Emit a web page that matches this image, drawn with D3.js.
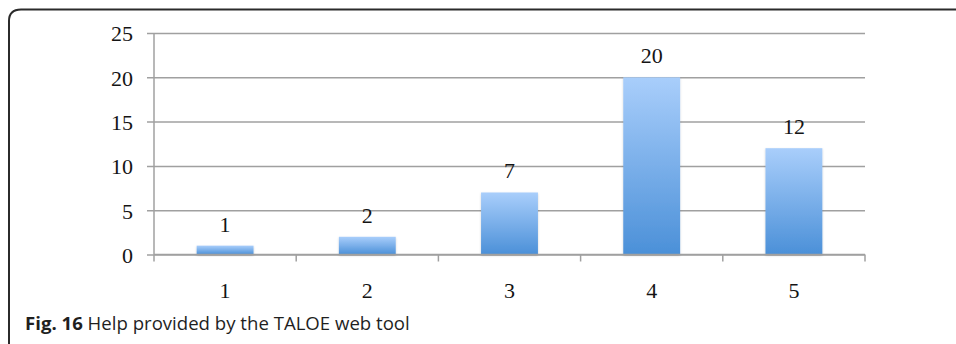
<!DOCTYPE html>
<html>
<head>
<meta charset="utf-8">
<script src="https://cdn.jsdelivr.net/npm/d3@7/dist/d3.min.js"></script>
<style>
  html, body { margin: 0; padding: 0; background: #fff; }
  svg { display: block; }
</style>
</head>
<body>
<svg id="chart" width="956" height="344"></svg>
<script>
// Responses per rating level
const categories = ["1", "2", "3", "4", "5"];
const counts = [1, 2, 7, 20, 12];
const yTicks = [0, 5, 10, 15, 20, 25];
const captionLabel = "Fig. 16";
const captionText = "Help provided by the TALOE web tool";

const svg = d3.select("#chart");
const W = 956, H = 344;

// Figure frame: top and left edges with a rounded corner
svg.append("path")
  .attr("d", `M9,${H + 2} L9,21 Q9,9.5 21,9.5 L${W + 2},9.5`)
  .attr("fill", "none")
  .attr("stroke", "#2b2b2b")
  .attr("stroke-width", 2);

const plot = { left: 154, right: 865, top: 33, bottom: 254.5 };

const x = d3.scaleBand()
  .domain(categories)
  .range([plot.left, plot.right])
  .paddingInner(0.6)
  .paddingOuter(0.3);

const y = d3.scaleLinear()
  .domain([0, 25])
  .range([plot.bottom, plot.top]);

const serif = "'Liberation Serif', 'DejaVu Serif', serif";

// Gradient fill for the bars
const defs = svg.append("defs");
const grad = defs.append("linearGradient")
  .attr("id", "barFill")
  .attr("x1", 0).attr("y1", 0).attr("x2", 0).attr("y2", 1);
grad.append("stop").attr("offset", "0%").attr("stop-color", "#a9cefb");
grad.append("stop").attr("offset", "100%").attr("stop-color", "#4b90d8");

const shadow = defs.append("filter").attr("id", "barShadow")
  .attr("x", "-20%").attr("y", "-20%").attr("width", "140%").attr("height", "140%");
shadow.append("feDropShadow")
  .attr("dx", 0).attr("dy", 1).attr("stdDeviation", 1.2)
  .attr("flood-color", "#000").attr("flood-opacity", 0.18);

// Horizontal gridlines with left tick stubs
const yAxis = d3.axisLeft(y)
  .tickValues(yTicks)
  .tickSize(-(plot.right - plot.left))
  .tickSizeOuter(0)
  .tickPadding(21)
  .tickFormat(d3.format("d"));

const gy = svg.append("g")
  .attr("transform", `translate(${plot.left},0)`)
  .call(yAxis);
gy.select(".domain").remove();
gy.selectAll(".tick line")
  .attr("x1", -7)
  .attr("stroke", "#a0a0a0")
  .attr("stroke-width", 1.5);
gy.selectAll(".tick text")
  .attr("fill", "#141414")
  .attr("dy", "0.36em")
  .style("font-family", serif)
  .style("font-size", "22px");

// Vertical axis line
svg.append("line")
  .attr("x1", plot.left).attr("x2", plot.left)
  .attr("y1", plot.top).attr("y2", plot.bottom)
  .attr("stroke", "#a0a0a0")
  .attr("stroke-width", 1.5);

// Bars
svg.append("g").selectAll("rect")
  .data(counts)
  .join("rect")
  .attr("x", (d, i) => x(categories[i]))
  .attr("y", d => y(d))
  .attr("width", x.bandwidth())
  .attr("height", d => y(0) - y(d))
  .attr("fill", "url(#barFill)")
  .attr("filter", "url(#barShadow)");

// Category axis with ticks at band boundaries
const bounds = categories.map(c => x(c) - x.step() * x.paddingInner() / 2);
bounds[0] = plot.left;
bounds.push(plot.right);

svg.append("line")
  .attr("x1", plot.left).attr("x2", plot.right)
  .attr("y1", plot.bottom).attr("y2", plot.bottom)
  .attr("stroke", "#a0a0a0")
  .attr("stroke-width", 1.5);

svg.append("g").selectAll("line")
  .data(bounds)
  .join("line")
  .attr("x1", d => d).attr("x2", d => d)
  .attr("y1", plot.bottom).attr("y2", plot.bottom + 7)
  .attr("stroke", "#a0a0a0")
  .attr("stroke-width", 1.5);

svg.append("g").selectAll("text")
  .data(categories)
  .join("text")
  .attr("x", d => x(d) + x.bandwidth() / 2)
  .attr("y", 298)
  .attr("text-anchor", "middle")
  .attr("fill", "#141414")
  .style("font-family", serif)
  .style("font-size", "22px")
  .text(d => d);

// Value labels above bars
svg.append("g").selectAll("text")
  .data(counts)
  .join("text")
  .attr("x", (d, i) => x(categories[i]) + x.bandwidth() / 2)
  .attr("y", d => y(d) - 14)
  .attr("text-anchor", "middle")
  .attr("fill", "#141414")
  .style("font-family", serif)
  .style("font-size", "22px")
  .text(d => d);

// Caption
const cap = svg.append("text")
  .attr("x", 25)
  .attr("y", 330)
  .attr("fill", "#1f1f1f")
  .style("font-family", "'Open Sans', 'Noto Sans', sans-serif")
  .style("font-size", "18.6px");
cap.append("tspan").attr("font-weight", "bold").text(captionLabel);
cap.append("tspan").text(" " + captionText);
</script>
</body>
</html>
